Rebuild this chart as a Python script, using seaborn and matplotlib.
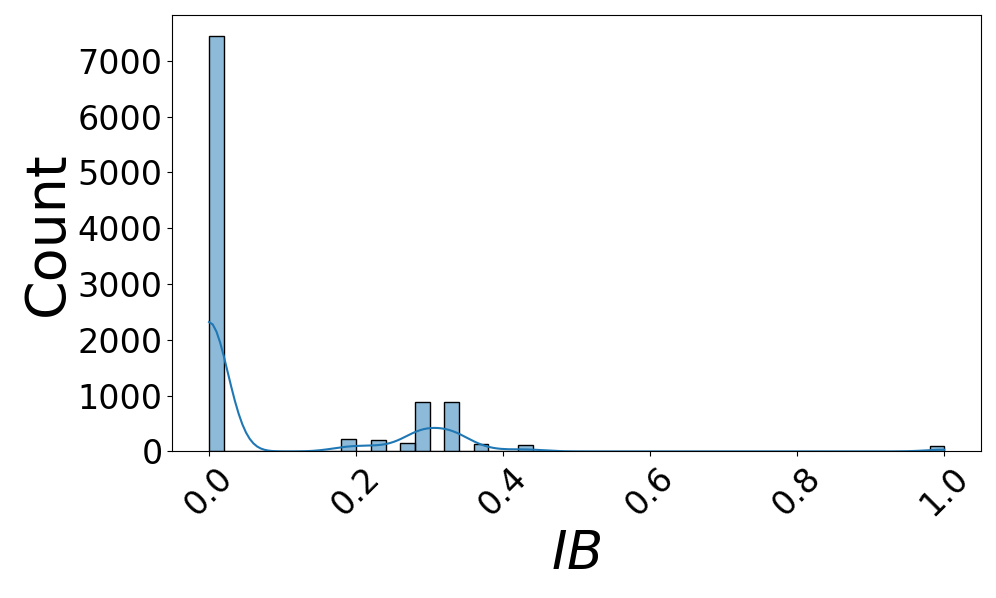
import numpy as np
import pandas as pd
import matplotlib
matplotlib.use("Agg")
import matplotlib.pyplot as plt
from matplotlib.ticker import MultipleLocator
import seaborn as sns

# IB values and how often each one occurs
ib_werte = [0.0, 0.19, 0.23, 0.27, 0.29, 0.33, 0.37, 0.43, 1.0]
anzahl = [7450, 229, 200, 147, 882, 882, 129, 111, 104]

df = pd.DataFrame({"IB": np.repeat(ib_werte, anzahl)})

fig, ax = plt.subplots(figsize=(9.96, 5.98), dpi=100)
sns.histplot(data=df, x="IB", bins=50, binrange=(0, 1), kde=True, ax=ax)
ax.set_xlabel("$IB$", fontsize=38)
ax.set_ylabel("Count", fontsize=40, labelpad=2)
ax.yaxis.set_major_locator(MultipleLocator(1000))
ax.tick_params(axis="both", labelsize=24)
plt.setp(ax.get_xticklabels(), rotation=45)
plt.subplots_adjust(left=0.173, right=0.985, top=0.975, bottom=0.245)
plt.savefig("out.png", dpi=100)
